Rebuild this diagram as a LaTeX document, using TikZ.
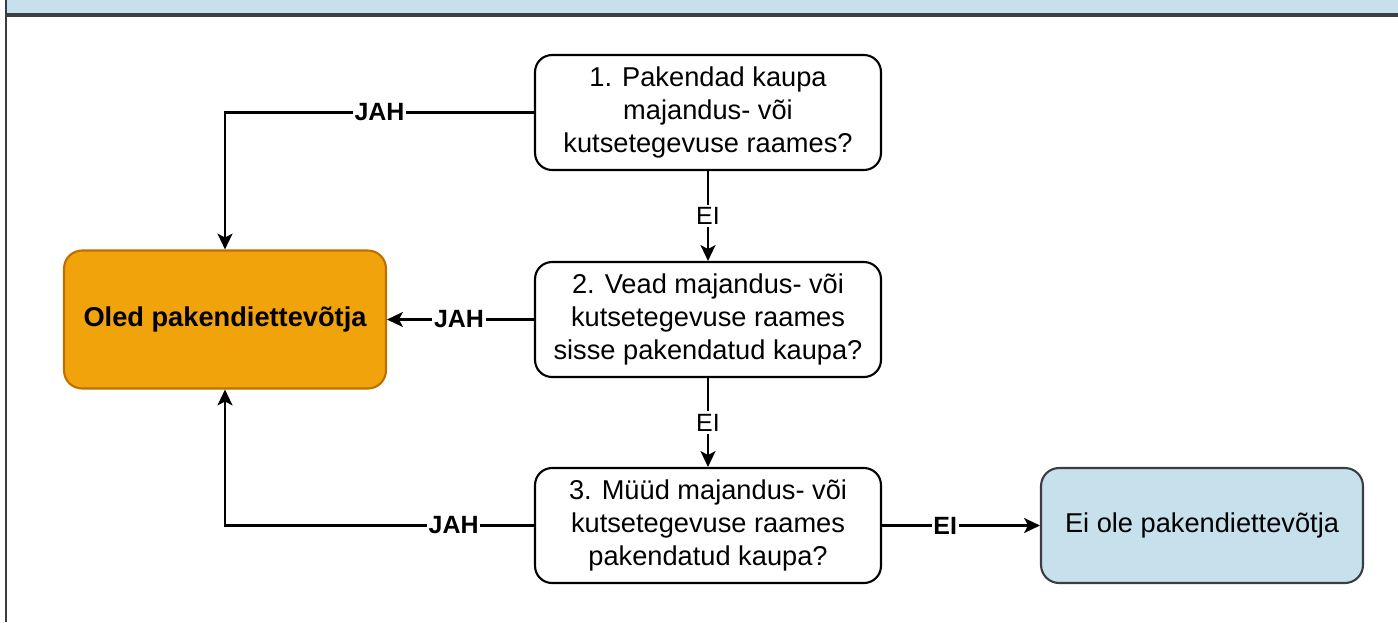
\documentclass[tikz,border=0pt]{standalone}
\usepackage{fontspec}
\setmainfont{Liberation Sans}
\usetikzlibrary{arrows.meta}
\definecolor{hdrblue}{RGB}{198,224,236}
\definecolor{framegray}{RGB}{58,62,66}
\definecolor{resorange}{RGB}{240,163,10}
\definecolor{resorangeline}{RGB}{189,112,0}

\begin{document}
\begin{tikzpicture}[x=0.02cm, y=-0.02cm,
        question/.style={draw, rectangle, rounded corners=0.34cm, line width=1.2pt, minimum width=6.92cm, minimum height=2.3cm, align=center, font=\fontsize{15.5}{18.6}\selectfont},
        result/.style={draw, rectangle, rounded corners=0.36cm, line width=1.2pt, minimum width=6.44cm, align=center, font=\fontsize{15.5}{18.6}\selectfont},
        arr/.style={-{Stealth[length=9pt, width=8.5pt, inset=2.2pt]}, line width=1.3pt},
        yeslbl/.style={fill=white, inner sep=1pt, font=\fontsize{14.2}{17}\selectfont\bfseries},
        nolbl/.style={fill=white, inner sep=1.5pt, font=\fontsize{14.2}{17}\selectfont}]
        \useasboundingbox (0,0) rectangle (1398,622);

        % Frame and header
        \fill[hdrblue] (6,0) rectangle (1398,15);
        \draw[framegray, line width=1.6pt] (6,0) -- (6,622);
        \draw[framegray, line width=2pt] (6,15) -- (1398,15);

        % Questions
        \node[question] (q1) at (708,112.5) {1. Pakendad kaupa\\majandus- või\\kutsetegevuse raames?};
        \node[question] (q2) at (708,319.5) {2. Vead majandus- või\\kutsetegevuse raames\\sisse pakendatud kaupa?};
        \node[question] (q3) at (708,525.5) {3. Müüd majandus- või\\kutsetegevuse raames\\pakendatud kaupa?};

        % Results
        \node[result, fill=resorange, draw=resorangeline, minimum height=2.76cm, font=\fontsize{15.5}{18.6}\selectfont\bfseries] (yes) at (225,319.5) {Oled pakendiettevõtja};
        \node[result, fill=hdrblue, draw=framegray, minimum height=2.3cm] (no) at (1202,525.5) {Ei ole pakendiettevõtja};

        % Connectors
        \draw[arr] (q1.west) -| node[pos=0.25, yeslbl] {JAH} (yes.north);
        \draw[arr] (q1) -- (q2) node[midway, nolbl] {EI};
        \draw[arr] (q2.west) -- (yes.east) node[pos=0.51, yeslbl] {JAH};
        \draw[arr] (q2) -- (q3) node[midway, nolbl] {EI};
        \draw[arr] (q3.west) -| node[pos=0.13, yeslbl] {JAH} (yes.south);
        \draw[arr] (q3.east) -- (no.west) node[pos=0.4, yeslbl] {EI};
    \end{tikzpicture}
\end{document}
